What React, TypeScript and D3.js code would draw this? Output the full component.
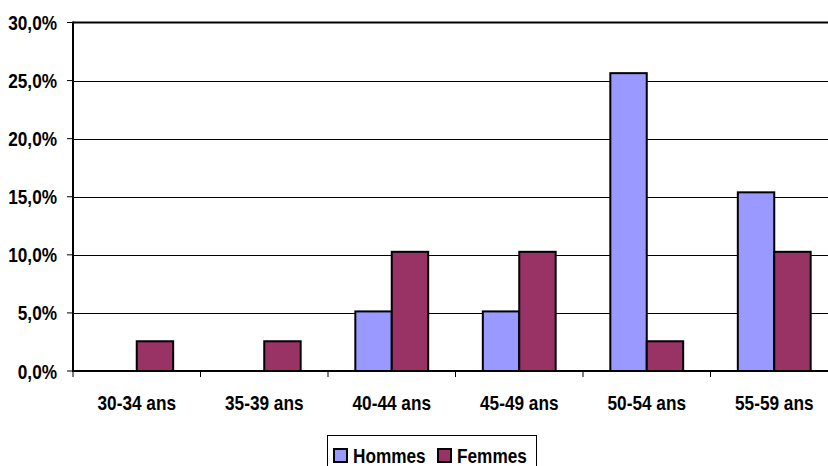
import React from "react";
import * as d3 from "d3";

const categories = ["30-34 ans", "35-39 ans", "40-44 ans", "45-49 ans", "50-54 ans", "55-59 ans"];
const hommes = [0, 0, 5.13, 5.13, 25.64, 15.38];
const femmes = [2.56, 2.56, 10.26, 10.26, 2.56, 10.26];
const yTicks = [0, 5, 10, 15, 20, 25, 30];
const seriesNames = ["Hommes", "Femmes"];
const colors = ["#9999FF", "#993366"];

const W = 828;
const H = 466;
const left = 73;
const right = 838;
const top = 22.5;
const bottom = 371;
const FONT = "'Liberation Sans', Arial, sans-serif";
const FS = 21;
const SX = 0.82;

function T({ x, y, anchor, children }: { x: number; y: number; anchor?: string; children: React.ReactNode }) {
  return (
    <text
      transform={`translate(${x},${y}) scale(${SX},1)`}
      textAnchor={anchor || "start"}
      fontWeight="bold"
      fontSize={FS}
      fill="#000"
    >
      {children}
    </text>
  );
}

export default function App() {
  const x = d3.scaleBand<string>().domain(categories).range([left, right]).paddingInner(0).paddingOuter(0);
  const y = d3.scaleLinear().domain([0, 30]).range([bottom, top]);
  const bw = x.bandwidth() / 3.5;
  const off = bw * 0.75;
  const series = [hommes, femmes];
  const fmt = (v: number) => v.toFixed(1).replace(".", ",") + "%";
  const boundaries = [...categories.map((c) => x(c) as number), right];

  return (
    <svg width={W} height={H} style={{ position: "absolute", left: 0, top: 0, background: "#fff" }} fontFamily={FONT}>
      <rect x={0} y={0} width={W} height={H} fill="#fff" />
      {yTicks.filter((t) => t > 0 && t < 30).map((t) => (
        <line key={"g" + t} x1={left} x2={right} y1={Math.round(y(t)) + 0.5} y2={Math.round(y(t)) + 0.5} stroke="#000" strokeWidth={1} />
      ))}
      <line x1={left} x2={right} y1={y(30)} y2={y(30)} stroke="#000" strokeWidth={2} />
      {series.map((vals, si) =>
        categories.map((c, i) => {
          const v = vals[i];
          if (v <= 0) return null;
          const x0 = (x(c) as number) + off + si * bw;
          return (
            <rect key={si + "-" + c} x={x0} y={y(v)} width={bw} height={bottom - y(v)} fill={colors[si]} stroke="#000" strokeWidth={2} />
          );
        })
      )}
      <line x1={left} x2={left} y1={top - 1} y2={bottom + 1} stroke="#000" strokeWidth={2} />
      <line x1={left - 1} x2={right} y1={bottom} y2={bottom} stroke="#000" strokeWidth={2} />
      {yTicks.map((t) => (
        <g key={"yt" + t}>
          <line x1={left - 6} x2={left} y1={y(t)} y2={y(t)} stroke="#000" strokeWidth={1} />
          <T x={57} y={y(t) + 7.5} anchor="end">
            {fmt(t)}
          </T>
        </g>
      ))}
      {boundaries.map((b, i) => (
        <line key={"xt" + i} x1={b} x2={b} y1={bottom} y2={bottom + 6} stroke="#000" strokeWidth={1} />
      ))}
      {categories.map((c) => (
        <T key={"xl" + c} x={(x(c) as number) + x.bandwidth() / 2} y={410} anchor="middle">
          {c}
        </T>
      ))}
      <g>
        <rect x={327.5} y={435.5} width={209} height={34} fill="#fff" stroke="#000" strokeWidth={1} />
        {seriesNames.map((n, i) => {
          const sx = i === 0 ? 334 : 438;
          return (
            <g key={"lg" + n}>
              <rect x={sx} y={449} width={13} height={13} fill={colors[i]} stroke="#000" strokeWidth={2} />
              <T x={sx + 19} y={463}>
                {n}
              </T>
            </g>
          );
        })}
      </g>
    </svg>
  );
}
